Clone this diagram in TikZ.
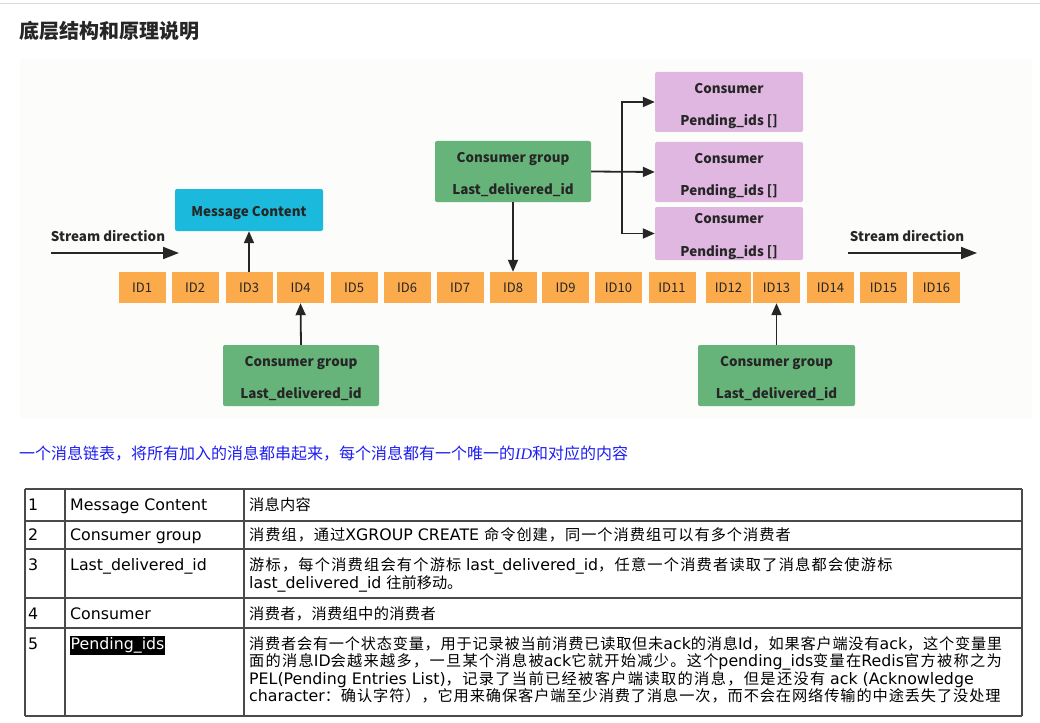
\documentclass[tikz,border=0pt]{standalone}
\usepackage{fontspec}
\setmainfont{DejaVu Sans}
\newfontfamily\cjk{Noto Sans CJK SC}
\newfontfamily\serifit{Liberation Serif}
\usetikzlibrary{arrows.meta}
\definecolor{idorange}{HTML}{FBAA4C}
\definecolor{mcyan}{HTML}{1BBADC}
\definecolor{cgreen}{HTML}{67B47A}
\definecolor{cpink}{HTML}{E0B7E1}
\definecolor{bgpanel}{HTML}{FCFCFB}
\definecolor{ink}{HTML}{262626}
\definecolor{bluetxt}{HTML}{1E1EF0}
\definecolor{tline}{HTML}{4A4A4A}
\definecolor{topline}{HTML}{D6DBE1}
\newcommand\zhs[2]{{\cjk\fontsize{15.2}{18}\selectfont\addfontfeature{LetterSpace=#1}#2}}
\newcommand\zh[1]{{\cjk\fontsize{15.2}{18}\selectfont #1}}
\tikzset{
  idbox/.style={fill=idorange, minimum width=47pt, minimum height=31pt, inner sep=0pt,
    font={\cjk\fontsize{13}{15}\selectfont}, text=ink},
  boxshape/.style={rounded corners=2pt, inner sep=0pt},
  boxtxt/.style={inner sep=0pt, align=center, text=ink,
    font={\cjk\bfseries\fontsize{13.4}{32}\selectfont}},
  arr/.style={draw=ink, line width=1.8pt, -{Triangle[length=12pt,width=10pt]}},
  sarr/.style={draw=ink, line width=1.8pt, -{Triangle[length=16pt,width=12pt]}},
  tlbl/.style={anchor=base west, inner sep=0pt, font={\fontsize{15.8}{18}\selectfont}, text=black},
  tgrid/.style={draw=tline, line width=1.2pt},
}
\begin{document}
\begin{tikzpicture}[x=1pt,y=-1pt]
\useasboundingbox (0,0) rectangle (1040,722);
\fill[white] (0,0) rectangle (1040,722);
\draw[topline, line width=1.5pt] (0,3.5) -- (1040,3.5);
\node[anchor=west, inner sep=0pt, text=ink, font={\cjk\bfseries\fontsize{20}{22}\selectfont}] (title) at (19,31) {底层结构和原理说明};
% panel
\fill[bgpanel] (20,58) rectangle (1032,418);
% ID boxes
\foreach \n/\x in {1/142,2/195,3/249,4/300.5,5/354,6/407,7/460,8/513,9/565.5,10/618.5,11/672,13/776.5,14/830.5,15/883.5,16/936.5}
  \node[idbox] (id\n) at (\x,287.5) {ID\n};
\node[idbox, minimum width=45pt] (id12) at (728.5,287.5) {ID12};
% boxes
\node[boxshape, fill=mcyan, minimum width=148pt, minimum height=42pt] (mc) at (249,210) {};
\node[boxtxt] (mct) at ([yshift=-3pt]mc.center) {Message Content};
\node[boxshape, fill=cgreen, minimum width=156pt, minimum height=61pt] (cgt) at (513,171.5) {};
\node[boxtxt] (cgtt) at ([yshift=-3pt]cgt.center) {Consumer group\\Last\_delivered\_id};
\node[boxshape, fill=cpink, minimum width=148pt, minimum height=60pt] (c1) at (729,102) {};
\node[boxtxt] (c1t) at ([yshift=-4pt]c1.center) {Consumer\\Pending\_ids []};
\node[boxshape, fill=cpink, minimum width=148pt, minimum height=60pt] (c2) at (729,172) {};
\node[boxtxt] (c2t) at ([yshift=-4pt]c2.center) {Consumer\\Pending\_ids []};
\node[boxshape, fill=cpink, minimum width=148pt, minimum height=53pt] (c3) at (729,233.5) {};
\node[boxtxt] (c3t) at ([yshift=-3pt]c3.center) {Consumer\\[1pt]Pending\_ids []};
\node[boxshape, fill=cgreen, minimum width=156pt, minimum height=61pt] (cgl) at (301,375.5) {};
\node[boxtxt] (cglt) at ([yshift=-3pt]cgl.center) {Consumer group\\Last\_delivered\_id};
\node[boxshape, fill=cgreen, minimum width=157pt, minimum height=61pt] (cgr) at (776.5,375.5) {};
\node[boxtxt] (cgrt) at ([yshift=-3pt]cgr.center) {Consumer group\\Last\_delivered\_id};
% stream direction
\node[inner sep=0pt, text=ink, font={\cjk\bfseries\fontsize{13.4}{16}\selectfont}] (sdl) at (108,236) {Stream direction};
\node[inner sep=0pt, text=ink, font={\cjk\bfseries\fontsize{13.4}{16}\selectfont}] (sdr) at (907,236) {Stream direction};
\coordinate (sl1) at (51,253); \coordinate (sl2) at (179,253);
\coordinate (sr1) at (848,253); \coordinate (sr2) at (977,253);
\draw[sarr] (sl1) -- (sl2);
\draw[sarr] (sr1) -- (sr2);
% arrows
\draw[arr] (id3.north) -- (mc.south);
\draw[arr] (cgt.south) -- (id8.north);
\draw[arr] (cgl.north) -- (id4.south);
\draw[arr] (cgr.north) -- (id13.south);
\coordinate (br) at (622,172);
\draw[arr] (cgt.east) -- (c2.west);
\draw[arr] (br) |- (c1.west);
\draw[arr] (br) |- (c3.west);
% blue sentence
\node[anchor=west, inner sep=0pt, text=bluetxt] (note) at (19,454)
  {{\cjk\fontsize{16}{18}\selectfont 一个消息链表，将所有加入的消息都串起来，每个消息都有一个唯一的}{\serifit\itshape\fontsize{16}{18}\selectfont ID}{\cjk\fontsize{16}{18}\selectfont 和对应的内容}};
% table grid
\foreach \y in {489,521,549,598,628,716} \draw[tgrid] (25,\y) -- (1022,\y);
\foreach \x in {25,65,244,1022} \draw[tgrid] (\x,489) -- (\x,716);
% column 1
\node[tlbl] (n1) at (28,510.5) {1};
\node[tlbl] (n2) at (28,540.5) {2};
\node[tlbl] (n3) at (28,570.5) {3};
\node[tlbl] (n4) at (28,619.5) {4};
\node[tlbl] (n5) at (28,649.5) {5};
% column 2
\node[tlbl] (k1) at (70,510.5) {Message Content};
\node[tlbl] (k2) at (70,540.5) {Consumer group};
\node[tlbl] (k3) at (70,570.5) {Last\_delivered\_id};
\node[tlbl] (k4) at (70,619.5) {Consumer};
\node[tlbl, fill=black, text=white, inner xsep=0.5pt, inner ysep=2pt] (k5) at (70,649.5) {Pending\_ids};
% column 3
\node[tlbl] (v1) at (249,510.5) {\zhs{2}{消息内容}};
\node[tlbl] (v2) at (249,540.5) {\zhs{6.5}{消费组，通过}XGROUP CREATE \zhs{6.5}{命令创建，同一个消费组可以有多个消费者}};
\node[tlbl] (v3a) at (249,570.5) {\zhs{8}{游标，每个消费组会有个游标 }last\_delivered\_id\zhs{8}{，任意一个消费者读取了消息都会使游标}};
\node[tlbl] (v3b) at (249,588.5) {last\_delivered\_id \zh{往前移动。}};
\node[tlbl] (v4) at (249,619.5) {\zhs{2.5}{消费者，消费组中的消费者}};
\node[tlbl] (v5a) at (249,649.5) {\zhs{5}{消费者会有一个状态变量，用于记录被当前消费已读取但未}ack\zhs{5}{的消息}Id\zhs{5}{，如果客户端没有}ack\zhs{5}{，这个变量里}};
\node[tlbl] (v5b) at (249,666.5) {\zhs{8.5}{面的消息}ID\zhs{8.5}{会越来越多，一旦某个消息被}ack\zhs{8.5}{它就开始减少。这个}pending\_ids\zhs{8.5}{变量在}Redis\zhs{8.5}{官方被称之为}};
\node[tlbl] (v5c) at (249,684) {PEL(Pending Entries List)\zhs{9}{，记录了当前已经被客户端读取的消息，但是还没有 }ack (Acknowledge};
\node[tlbl] (v5d) at (249,701.5) {character\zhs{6}{：确认字符），它用来确保客户端至少消费了消息一次，而不会在网络传输的中途丢失了没处理}};
\end{tikzpicture}
\end{document}
